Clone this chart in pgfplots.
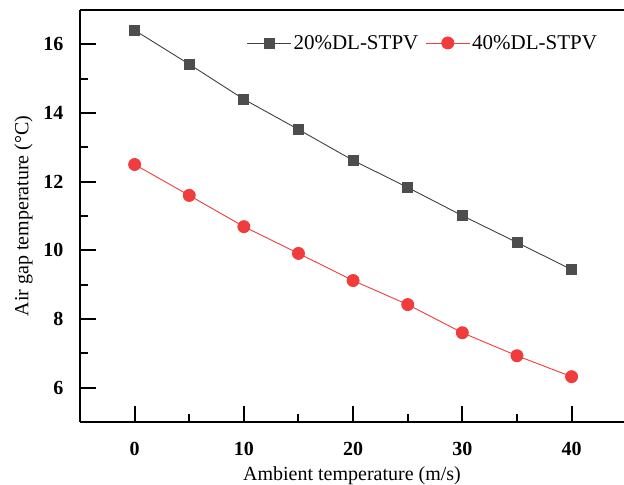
\documentclass[border=0pt]{standalone}
\usepackage{pgfplots}
\pgfplotsset{compat=1.18}
\usepackage{fontspec}
\setmainfont{Liberation Serif}
\usetikzlibrary{calc}
\definecolor{cgray}{HTML}{4D4D4D}
\definecolor{cred}{HTML}{F03C3C}
\begin{document}
\begin{tikzpicture}
\begin{axis}[
  scale only axis, width=544bp, height=412bp,
  xmin=-5, xmax=44.8, ymin=5, ymax=17,
  axis x line=box, axis y line=left,
  axis line style={-, line width=2bp, black},
  tick align=inside, xtick pos=left, ytick pos=left,
  xtick={0,10,20,30,40}, ytick={6,8,10,12,14,16},
  minor x tick num=1, minor y tick num=1,
  major tick length=16bp, minor tick length=8bp,
  every major tick/.append style={line width=2bp, black},
  every minor tick/.append style={line width=2bp, black},
  tick label style={font=\fontsize{20bp}{23bp}\selectfont\bfseries},
  /pgf/number format/assume math mode=true,
  xticklabel style={yshift=-17bp},
  yticklabel style={xshift=-13bp},
  label style={font=\fontsize{20bp}{23bp}\selectfont},
  xlabel={Ambient temperature (m/s)},
  ylabel={Air gap temperature (°C)},
  xlabel style={yshift=-4bp},
  ylabel style={yshift=4bp},
  legend style={draw=none, fill=none, at={(0.96,0.92)}, anchor=east,
    legend columns=2, font=\fontsize{21bp}{24bp}\selectfont,
    /tikz/every even column/.append style={column sep=5bp}},
  legend image code/.code={\draw[mark repeat=2,mark phase=2] plot coordinates {(0bp,0bp)(22bp,0bp)(44bp,0bp)};},
]
\addplot[color=cgray!85!black, line width=0.9bp, mark=square*, mark size=5bp,
  mark options={fill=cgray, draw=cgray, solid}] coordinates {
  (0,16.41) (5,15.42) (10,14.40) (15,13.52) (20,12.62) (25,11.83) (30,11.01) (35,10.23) (40,9.44)};
\addlegendentry{20\%DL-STPV}
\addplot[color=cred, line width=0.9bp, mark=*, mark size=6bp,
  mark options={fill=cred, draw=cred, solid}] coordinates {
  (0,12.50) (5,11.60) (10,10.69) (15,9.91) (20,9.12) (25,8.42) (30,7.60) (35,6.93) (40,6.32)};
\addlegendentry{40\%DL-STPV}
\end{axis}
\pgfresetboundingbox
\useasboundingbox ($(current axis.south west)+(-80bp,-63bp)$) rectangle ($(current axis.north east)+(0,10bp)$);
\end{tikzpicture}
\end{document}
